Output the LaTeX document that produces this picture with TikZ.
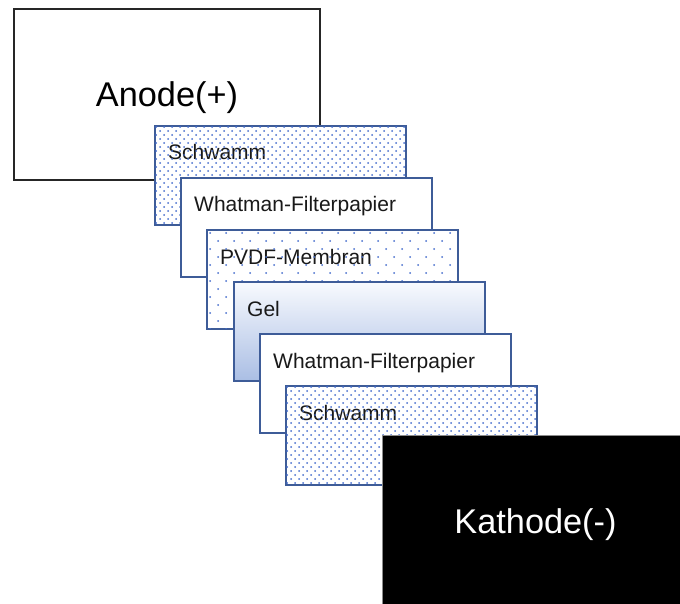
\documentclass[tikz,border=0pt]{standalone}
\usepackage{fontspec}
\setmainfont{Liberation Sans}
\definecolor{edgeblue}{RGB}{62,92,152}
\definecolor{dotblue}{RGB}{70,110,205}
\definecolor{gelbottom}{RGB}{170,190,228}
\definecolor{geltop}{RGB}{248,250,254}
% #1 node name, #2 spacing, #3 number of columns, #4 number of rows
\newcommand{\layerdots}[4]{%
  \begin{scope}
    \clip ([shift={(1.2,1.2)}]#1.north west) rectangle ([shift={(-1.2,-1.2)}]#1.south east);
    \begin{scope}[shift={(#1.north west)}]
      \foreach \j in {0,...,#4} {
        \pgfmathsetmacro\xo{mod(\j,2)*#2/2+#2/4}
        \foreach \i in {0,...,#3}
          \fill[dotblue] (\xo+\i*#2, #2/4+\j*#2/2) circle (1);
      }
    \end{scope}
  \end{scope}}
\tikzset{
  layer/.style={rectangle, draw=edgeblue, line width=1.6pt, minimum width=251pt,
    minimum height=99pt, anchor=north west, inner sep=0pt, fill=white,
    label={[anchor=base west, inner sep=0pt, xshift=14pt, yshift=-35pt,
      font=\fontsize{21}{24}\selectfont, text=black!90]north west:#1}},
  gel/.style={top color=geltop, bottom color=gelbottom},
  bigtext/.style={font=\fontsize{34.3}{38}\selectfont, inner sep=0pt}
}
\begin{document}
\begin{tikzpicture}[x=1pt,y=-1pt]
\useasboundingbox (0,0) rectangle (680,604);
\clip (0,0) rectangle (680,604);
% Anode
\node[rectangle, draw=black!85, line width=2pt, fill=white, anchor=north west,
  minimum width=306pt, minimum height=171pt, inner sep=0pt] (anode) at (13,8) {};
\node[bigtext, anchor=base] (anodetext) at (167,107) {Anode(+)};
% layers
\node[layer=Schwamm] (s1) at (154,125) {};
\layerdots{s1}{8}{31}{25}
\node[layer=Whatman-Filterpapier] (w1) at (180,177) {};
\node[layer=PVDF-Membran] (p) at (206,229) {};
\layerdots{p}{16}{15}{12}
\node[layer=Gel, gel] (g) at (233,281) {};
\node[layer=Whatman-Filterpapier] (w2) at (259,333) {};
\node[layer=Schwamm] (s2) at (285,385) {};
\layerdots{s2}{8}{31}{25}
% Kathode
\node[rectangle, fill=black, draw=black!45, line width=0.8pt, anchor=north west,
  minimum width=320pt, minimum height=190pt, inner sep=0pt] (kathode) at (382,435) {};
\node[bigtext, anchor=base, text=white] (kathodetext) at (535.5,533) {Kathode(-)};
\end{tikzpicture}
\end{document}
